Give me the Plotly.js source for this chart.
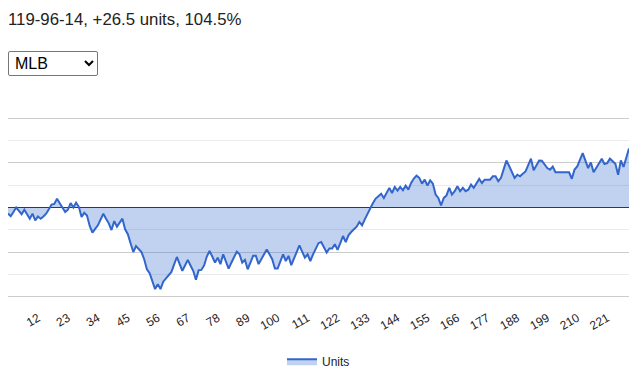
<!DOCTYPE html>
<html>
<head>
<meta charset="utf-8">
<script src="https://cdn.plot.ly/plotly-3.0.1.min.js"></script>
<style>
  html, body { margin: 0; padding: 0; background: #fff; width: 641px; height: 378px; overflow: hidden; }
  #summary { position: absolute; left: 8px; top: 10px; font-family: "Liberation Sans", Arial, sans-serif; font-size: 16.8px; color: #222; z-index: 2; white-space: nowrap; }
  #league { position: absolute; left: 8px; top: 51px; width: 90px; height: 25px; font-family: "Liberation Sans", Arial, sans-serif; font-size: 16px; color: #000; background: #fff; border: 1px solid #767676; border-radius: 2px; z-index: 2; padding: 0 2px; }
  #chart { position: absolute; left: 0; top: 0; width: 641px; height: 378px; z-index: 1; }
</style>
</head>
<body>
<div id="summary">119-96-14, +26.5 units, 104.5%</div>
<select id="league"><option>MLB</option><option>NBA</option><option>NFL</option><option>NHL</option></select>
<div id="chart"></div>
<script>
// Cumulative units after each game
const units = [
  -2.7, -3.9, -2, 0, -1.5, -3, -1, -3, -5, -2.8,
  -5.8, -4, -5, -4, -2.8, -0.8, 1.3, 1.6, 3.9, 1.9,
  0, -2, -1, 2, 0, 2.2, 0.3, -4.3, -2.4, -3.6,
  -8.3, -11.3, -9.6, -8, -5.4, -2.8, -5, -7.1, -10.1, -6.1,
  -8.6, -6.8, -5, -9.8, -12, -16, -20, -17.3, -18.6, -20,
  -23.2, -27.7, -29.5, -33.6, -36.6, -34.4, -36.6, -33.3, -31.8, -30.3,
  -28.9, -25.5, -22.2, -25.3, -28.4, -26, -23.5, -26, -28.4, -32.4,
  -28.1, -28, -26, -22, -19.5, -22, -24.7, -22.5, -25.4, -21,
  -24.2, -27.4, -24.8, -22.3, -19.8, -21, -24.7, -23.5, -27.7, -24.7,
  -21.7, -21.7, -25.4, -23.2, -21, -18.8, -21, -23.2, -27.4, -27.4,
  -24.2, -21, -24, -21.7, -25.9, -23, -20, -17, -19.8, -22.5,
  -21, -24, -21, -18.5, -16, -15.5, -18, -20.2, -18.4, -18.4,
  -16.5, -19, -16, -12.8, -15.5, -12.5, -11, -9.8, -8.6, -6.5,
  -8, -5.3, -2.6, 0, 2, 4, 5.2, 6.2, 4.3, 6.5,
  8.8, 6.5, 9.2, 7.6, 9.2, 7.7, 9.8, 8, 11, 13,
  14.3, 13.3, 10.7, 12.5, 9.8, 12.2, 10.7, 5.8, 4.3, 0.9,
  4.3, 5.4, 8.8, 5.8, 7.3, 9.5, 7.3, 8.8, 7.3, 8,
  10.3, 8.8, 10.8, 12.8, 11, 12.5, 12.5, 12.5, 14, 14,
  11.8, 13.3, 17.2, 21.1, 18.6, 16.2, 13.3, 14.7, 14, 15.1,
  16.2, 19, 21.9, 16.7, 19.2, 21.1, 21, 19.3, 17.7, 17,
  18.4, 15.8, 15.8, 15.8, 15.8, 15.8, 15.8, 12.9, 17, 18.4,
  21.4, 24.4, 21, 17.7, 20.2, 15.8, 17.8, 19.8, 21.9, 19.5,
  19.9, 21.9, 20.7, 19.6, 14.7, 21.1, 18.2, 22.2, 26.5
];
// Game numbers (x categories)
const games = units.map((_, i) => i + 1);
// X-axis tick labels
const tickLabels = ["1", "12", "23", "34", "45", "56", "67", "78", "89", "100", "111", "122", "133", "144", "155", "166", "177", "188", "199", "210", "221"];
const seriesName = "Units";

const trace = {
  x: games,
  y: units,
  type: "scatter",
  mode: "lines",
  name: seriesName,
  fill: "tozeroy",
  fillcolor: "rgba(51,102,204,0.3)",
  line: { color: "#3366cc", width: 2 },
  hoverinfo: "x+y"
};

const layout = {
  width: 641,
  height: 378,
  margin: { l: 8, r: 12, t: 117, b: 80, autoexpand: false },
  paper_bgcolor: "rgba(0,0,0,0)",
  plot_bgcolor: "#fff",
  font: { family: "Liberation Sans, Arial, sans-serif", size: 12, color: "#222" },
  showlegend: true,
  legend: {
    orientation: "h",
    x: 0.5, xanchor: "center",
    y: -0.35, yanchor: "middle",
    font: { size: 12, color: "#222" },
    bgcolor: "rgba(0,0,0,0)"
  },
  xaxis: {
    range: [1, 229],
    tickmode: "array",
    tickvals: tickLabels.map(Number),
    ticktext: tickLabels,
    tickangle: -30,
    ticklabelstandoff: 10,
    automargin: false,
    showgrid: false,
    zeroline: false,
    showline: false,
    ticks: "",
    ticklen: 0,
    tickfont: { size: 12, color: "#222" },
    fixedrange: true
  },
  yaxis: {
    range: [-40.6, 40.6],
    dtick: 20,
    tick0: 0,
    automargin: false,
    showticklabels: false,
    ticks: "",
    showgrid: true,
    gridcolor: "#cccccc",
    gridwidth: 1,
    minor: { dtick: 10, showgrid: true, gridcolor: "#ebebeb", gridwidth: 1 },
    zeroline: true,
    zerolinecolor: "#333333",
    zerolinewidth: 1,
    showline: false,
    fixedrange: true
  }
};

Plotly.newPlot("chart", [trace], layout, { staticPlot: true, displayModeBar: false });
</script>
</body>
</html>
